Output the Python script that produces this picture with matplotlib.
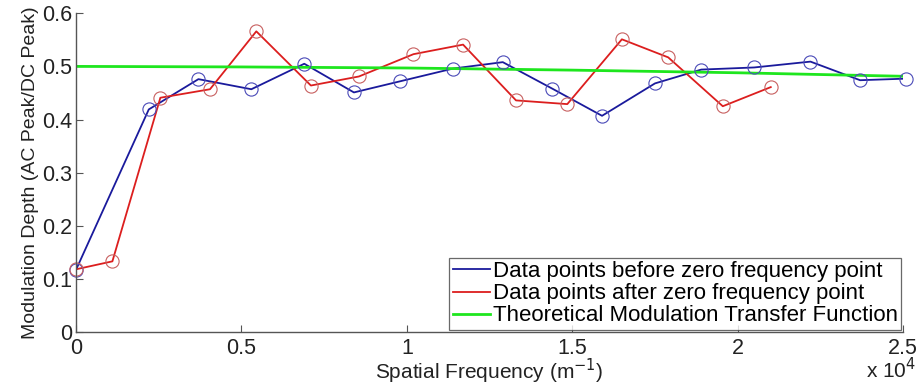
import matplotlib.pyplot as plt
import numpy as np

plt.rcParams['font.family'] = ['Liberation Sans', 'DejaVu Sans']

# data (spatial frequency in m^-1)
freq_before = [0, 2200, 3700, 5300, 6900, 8400, 9800, 11400, 12900, 14400,
               15900, 17500, 18900, 20500, 22200, 23700, 25100]
depth_before = [0.117, 0.419, 0.476, 0.457, 0.505, 0.451, 0.472, 0.496, 0.508,
                0.458, 0.407, 0.468, 0.494, 0.498, 0.509, 0.474, 0.477]

freq_after = [0, 1100, 2550, 4050, 5450, 7100, 8550, 10200, 11700, 13300,
              14850, 16500, 17900, 19550, 21000]
depth_after = [0.118, 0.133, 0.441, 0.457, 0.566, 0.464, 0.481, 0.523, 0.541,
               0.436, 0.429, 0.551, 0.517, 0.425, 0.461]

freq_theory = [0, 5000, 10000, 15000, 20000, 25300]
mtf_theory = [0.500, 0.499, 0.497, 0.493, 0.488, 0.481]

fig = plt.figure(figsize=(9.19, 3.85), dpi=100)
ax = fig.add_axes([0.0827, 0.1377, 0.900, 0.8278])

blue = '#1a1a9c'
red = '#dc1e1e'
green = '#1ee61e'

ax.plot(freq_before, depth_before, color=blue, lw=1.3,
        label='Data points before zero frequency point')
ax.plot(freq_after, depth_after, color=red, lw=1.3,
        label='Data points after zero frequency point')
ax.plot(freq_theory, mtf_theory, color=green, lw=2.0,
        label='Theoretical Modulation Transfer Function')
ax.plot(freq_before, depth_before, 'o', ms=9.5, mfc='none', mec='#4a4ab8',
        mew=0.8, clip_on=False)
ax.plot(freq_after, depth_after, 'o', ms=9.5, mfc='none', mec='#c86060',
        mew=0.8, clip_on=False)

ax.set_xlim(0, 25000)
ax.set_ylim(0, 0.6)
ax.set_xticks([0, 5000, 10000, 15000, 20000, 25000])
ax.set_xticklabels(['0', '0.5', '1', '1.5', '2', '2.5'])
ax.set_yticks(np.arange(0, 0.61, 0.1))
ax.set_yticklabels(['0', '0.1', '0.2', '0.3', '0.4', '0.5', '0.6'])

for side in ['top', 'right']:
    ax.spines[side].set_visible(False)
for side in ['left', 'bottom']:
    ax.spines[side].set_color('#555555')
    ax.spines[side].set_linewidth(1.0)
ax.tick_params(direction='in', length=5, color='#555555', labelsize=15.5,
               labelcolor='#222222')
ax.tick_params(axis='x', pad=4)
ax.tick_params(axis='y', pad=3)

ax.set_xlabel('Spatial Frequency (m$^{-1}$)', fontsize=15, color='#222222',
              labelpad=-1)
ax.set_ylabel('Modulation Depth (AC Peak/DC Peak)', fontsize=14,
              color='#222222', labelpad=2)
ax.text(1.016, -0.118, 'x 10$^{4}$', transform=ax.transAxes, fontsize=15,
        color='#222222', ha='right', va='center')

leg = ax.legend(loc='lower right', fontsize=16, frameon=True, fancybox=False,
                borderaxespad=0.1, handlelength=1.7, handletextpad=0.1,
                borderpad=0.15, labelspacing=0.05)
leg.get_frame().set_edgecolor('#444444')
leg.get_frame().set_linewidth(0.9)

fig.savefig('out.png', dpi=100)
